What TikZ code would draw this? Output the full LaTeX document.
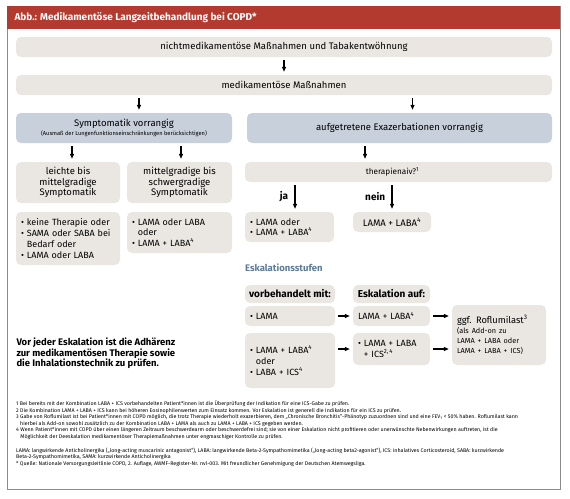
\documentclass[tikz,border=0pt]{standalone}
\usepackage{fontspec}
\setmainfont{Fira Sans}
\usetikzlibrary{arrows.meta}
\definecolor{kopfrot}{HTML}{B33A2F}
\definecolor{kastengrau}{HTML}{EAE7E2}
\definecolor{kastenblau}{HTML}{C7D0DB}
\definecolor{rahmengrau}{HTML}{8C8C8C}
\definecolor{stufenblau}{HTML}{5D7B9A}
\newcommand\ein{\hphantom{•\ }}
\newcommand\hoch[1]{\textsuperscript{#1}}
\tikzset{
  kasten/.style={fill=kastengrau, rounded corners=5pt, inner sep=0pt, align=center, font=\fontsize{9.5}{10.7}\selectfont},
  blaukasten/.style={kasten, fill=kastenblau},
  liste/.style={kasten, align=left, inner xsep=5pt, font=\fontsize{9}{10.7}\selectfont},
  pfeil/.style={-{Triangle[length=5pt,width=4pt]}, line width=1.1pt, shorten <=3pt, shorten >=3pt},
  marke/.style={font=\bfseries\fontsize{10}{11}\selectfont},
  fuss/.style={anchor=north west, align=left, inner sep=0pt, font=\fontsize{5.3}{6.6}\selectfont},
}
\begin{document}
\begin{tikzpicture}[x=1pt, y=-1pt]
\useasboundingbox (0,0) rectangle (570,498);
% Rahmen und Kopf
\draw[rahmengrau, line width=0.8pt] (7,6) rectangle (560,489);
\fill[kopfrot] (7,6) rectangle (560,29);
\node[anchor=west, text=white, font=\bfseries\fontsize{10}{11}\selectfont] (titel) at (11,17.5) {Abb.: Medikamentöse Langzeitbehandlung bei COPD*};
% obere Stufen
\node[kasten, minimum width=536pt, minimum height=20pt] (nicht) at (284,47) {nichtmedikamentöse Maßnahmen und Tabakentwöhnung};
\node[kasten, minimum width=536pt, minimum height=20pt] (medi) at (284,85) {medikamentöse Maßnahmen};
\node[blaukasten, minimum width=216pt, minimum height=30pt] (sympt) at (124,128) {Symptomatik vorrangig\\[-1.5pt]{\fontsize{5.7}{6.5}\selectfont (Ausmaß der Lungenfunktionseinschränkungen berücksichtigen)}};
\node[blaukasten, minimum width=305pt, minimum height=30pt] (exa) at (399.5,128) {aufgetretene Exazerbationen vorrangig};
\draw[pfeil] (nicht) -- (medi);
\draw[pfeil] ([xshift=15pt]sympt.north |- medi.south) -- ([xshift=15pt]sympt.north);
\draw[pfeil] ([xshift=13pt]exa.north |- medi.south) -- ([xshift=13pt]exa.north);
% linke Spalte
\node[kasten, minimum width=104pt, minimum height=41pt] (leicht) at (68,182.5) {leichte bis\\mittelgradige\\Symptomatik};
\node[kasten, minimum width=105pt, minimum height=41pt] (schwer) at (179.5,182.5) {mittelgradige bis\\schwergradige\\Symptomatik};
\node[liste, text width=94pt, minimum height=53pt] (thA) at (68,238.5) {• keine~Therapie~oder\\• SAMA~oder~SABA~bei\\\ein Bedarf~oder\\• LAMA~oder~LABA};
\node[liste, text width=95pt, minimum height=41pt] (thB) at (179.5,232.5) {• LAMA oder LABA\\\ein oder\\• LAMA + LABA\hoch{4}};
\draw[pfeil] ([xshift=4pt]leicht.north |- sympt.south) -- ([xshift=4pt]leicht.north);
\draw[pfeil] ([xshift=1.5pt]schwer.north |- sympt.south) -- ([xshift=1.5pt]schwer.north);
% rechte Spalte
\node[kasten, minimum width=307pt, minimum height=20pt, font=\fontsize{8.2}{10}\selectfont] (naiv) at (398.5,172) {therapienaiv?\hoch{1}\hspace*{12pt}};
\node[liste, text width=79pt, minimum height=30pt] (ja) at (289.5,227) {• LAMA oder\\• LAMA + LABA\hoch{4}};
\node[kasten, minimum width=78pt, minimum height=20pt] (nein) at (392,222) {LAMA + LABA\hoch{4}};
\draw[pfeil] ([xshift=-34.5pt]exa.south) -- ([xshift=-34.5pt]exa.south |- naiv.north);
\draw[pfeil] ([xshift=5.5pt]ja.north |- naiv.south) -- node[marke, left=3pt] {ja} ([xshift=5.5pt]ja.north);
\draw[pfeil] (nein.north |- naiv.south) -- node[marke, left=3pt] {nein} (nein.north);
% Eskalation
\node[anchor=west, font=\bfseries\fontsize{9.5}{10}\selectfont, text=stufenblau, inner sep=0pt] (stufen) at (245,268) {Eskalationsstufen};
\node[kasten, marke, minimum width=90pt, minimum height=18pt] (vorb) at (290,294) {vorbehandelt mit:};
\node[kasten, marke, minimum width=77pt, minimum height=18pt] (eskauf) at (391.5,294) {Eskalation auf:};
\node[liste, text width=80pt, minimum height=20pt] (lama) at (290,316) {• LAMA};
\node[liste, text width=67pt, minimum height=20pt] (lamalaba) at (391.5,316) {LAMA + LABA\hoch{4}};
\node[liste, text width=80pt, minimum height=55pt] (vor2) at (290,360.5) {• LAMA + LABA\hoch{4}\\\ein oder\\• LABA + ICS\hoch{4}};
\node[liste, text width=67pt, minimum height=32pt] (triple) at (391.5,349) {• LAMA + LABA\\\ein + ICS\hoch{2,\,4}};
\node[liste, text width=84pt, minimum height=60pt] (roflu) at (499,335) {{\fontsize{9.3}{10.7}\selectfont ggf. Roflumilast\hoch{3}}\\[1pt]\fontsize{7.3}{9.3}\selectfont (als Add-on zu\\LAMA + LABA oder\\LAMA + LABA + ICS)};
\draw[pfeil] (lama) -- (lamalaba);
\draw[pfeil] (lamalaba) -- (lamalaba -| roflu.west);
\draw[pfeil] (vor2.east |- triple) -- (triple);
\draw[pfeil] (triple) -- (triple -| roflu.west);
% Hinweis
\node[anchor=west, align=left, font=\bfseries\fontsize{9.5}{10.5}\selectfont] (adhaerenz) at (13,353.5) {Vor jeder Eskalation ist die Adhärenz\\zur medikamentösen Therapie sowie\\die Inhalationstechnik zu prüfen.};
% Fussnoten
\node[fuss] (fussnoten) at (16,400.5) {1 Bei bereits mit der Kombination LABA + ICS vorbehandelten Patient*innen ist die Überprüfung der Indikation für eine ICS-Gabe zu prüfen.\\
2 Die Kombination LAMA + LABA + ICS kann bei höheren Eosinophilenwerten zum Einsatz kommen. Vor Eskalation ist generell die Indikation für ein ICS zu prüfen.\\
3 Gabe von Roflumilast ist bei Patient*innen mit COPD möglich, die trotz Therapie wiederholt exazerbieren, dem „Chronische Bronchitis“-Phänotyp zuzuordnen sind und eine FEV\textsubscript{1} < 50\% haben. Roflumilast kann\\
\hphantom{3 }hierbei als Add-on sowohl zusätzlich zu der Kombination LABA + LAMA als auch zu LAMA + LABA + ICS gegeben werden.\\
4 Wenn Patient*innen mit COPD über einen längeren Zeitraum beschwerdearm oder beschwerdefrei sind; sie von einer Eskalation nicht profitieren oder unerwünschte Nebenwirkungen auftreten, ist die\\
\hphantom{4 }Möglichkeit der Deeskalation medikamentöser Therapiemaßnahmen unter engmaschiger Kontrolle zu prüfen.};
\node[fuss] (abkuerzungen) at (16,447.5) {LAMA: langwirkende Anticholinergika („long-acting muscarinic antagonist“), LABA: langwirkende Beta-2-Sympathomimetika („long-acting beta2-agonist“), ICS: inhalatives Corticosteroid, SABA: kurzwirkende\\
Beta-2-Sympathomimetika, SAMA: kurzwirkende Anticholinergika};
\node[fuss] (quelle) at (16,461.5) {* Quelle: Nationale Versorgungsleitlinie COPD, 2. Auflage, AWMF-Register-Nr. nvl-003. Mit freundlicher Genehmigung der Deutschen Atemwegsliga.};
\end{tikzpicture}
\end{document}
